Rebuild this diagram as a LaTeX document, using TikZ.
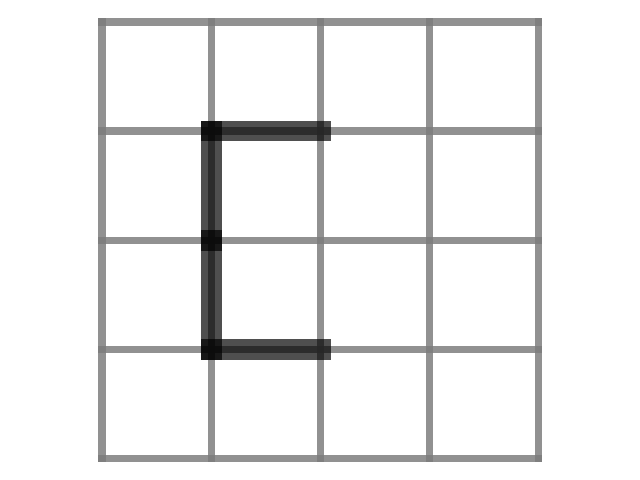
\documentclass[tikz,border=0pt]{standalone}
\definecolor{gridgray}{HTML}{7B7B7B}
\tikzset{
  gridline/.style={draw=gridgray, opacity=0.83, line width=0.073cm, line cap=rect},
  pathseg/.style={draw=black, opacity=0.69, line width=0.207cm, line cap=rect}
}
\begin{document}
\begin{tikzpicture}
\useasboundingbox (0,0) rectangle (6.4,4.8);

\foreach \i in {0,...,4} {
  \draw[gridline] (1.02+1.092*\i,0.213) -- (1.02+1.092*\i,4.581);
  \draw[gridline] (1.02,0.213+1.092*\i) -- (5.388,0.213+1.092*\i);
}

\draw[pathseg] (2.112,3.489) -- (3.204,3.489);
\draw[pathseg] (2.112,3.489) -- (2.112,2.397);
\draw[pathseg] (2.112,2.397) -- (2.112,1.305);
\draw[pathseg] (2.112,1.305) -- (3.204,1.305);
\end{tikzpicture}
\end{document}
